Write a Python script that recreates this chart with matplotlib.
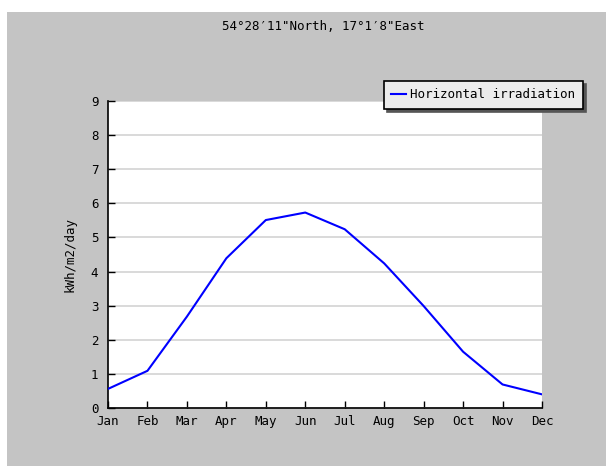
import matplotlib
matplotlib.use("Agg")
import matplotlib.pyplot as plt
from matplotlib.patches import Rectangle

# monthly values
months = ['Jan', 'Feb', 'Mar', 'Apr', 'May', 'Jun', 'Jul', 'Aug', 'Sep', 'Oct', 'Nov', 'Dec']
irradiation = [0.56, 1.09, 2.68, 4.39, 5.51, 5.73, 5.24, 4.24, 2.99, 1.65, 0.69, 0.40]
yticks = [0, 1, 2, 3, 4, 5, 6, 7, 8, 9]

plt.rcParams['font.family'] = 'DejaVu Sans Mono'
plt.rcParams['font.size'] = 9

W, H = 606, 466
fig = plt.figure(figsize=(W / 100, H / 100), dpi=100, facecolor='white')

# grey panel behind everything
fig.patches.append(Rectangle((7 / W, 0), 1 - 7 / W, 1 - 12 / H, transform=fig.transFigure,
                             facecolor='#c4c4c4', edgecolor='none', zorder=-10))

ax = fig.add_axes([108 / W, 58 / H, 434 / W, 307 / H])
ax.set_zorder(1)
ax.set_facecolor('white')

x = list(range(len(months)))
ax.plot(x, irradiation, color='#0000ff', linewidth=1.5, label='Horizontal irradiation', zorder=3)

ax.set_xlim(0, len(months) - 1)
ax.set_ylim(0, 9)
ax.set_xticks(x)
ax.set_xticklabels(months)
ax.set_yticks(yticks)
ax.yaxis.grid(True, color='#d3d3d3', linewidth=1.2)
ax.set_axisbelow(True)

ax.tick_params(direction='in', length=5, width=1, colors='black', pad=5)
ax.tick_params(axis='y', pad=7)
for s in ['top', 'right']:
    ax.spines[s].set_visible(False)
for s in ['left', 'bottom']:
    ax.spines[s].set_linewidth(1.2)

ax.set_ylabel('kWh/m2/day', labelpad=10)
fig.text(323 / W, 1 - 27 / H, '54°28′11"North, 17°1′8"East', ha='center', va='center')

leg = ax.legend(loc='upper right', bbox_to_anchor=(583 / W, 1 - 81 / H), bbox_transform=fig.transFigure,
                frameon=True, fancybox=False,
                shadow={'color': '#555555', 'alpha': 1, 'ox': 2.5, 'oy': -2.5},
                handlelength=1.15, handletextpad=0.4, borderpad=0.6, borderaxespad=0)
leg.get_frame().set_facecolor('#ececec')
leg.get_frame().set_edgecolor('black')
leg.get_frame().set_linewidth(1.2)
leg.get_frame().set_alpha(1)

fig.savefig('out.png', dpi=100, facecolor='white')
